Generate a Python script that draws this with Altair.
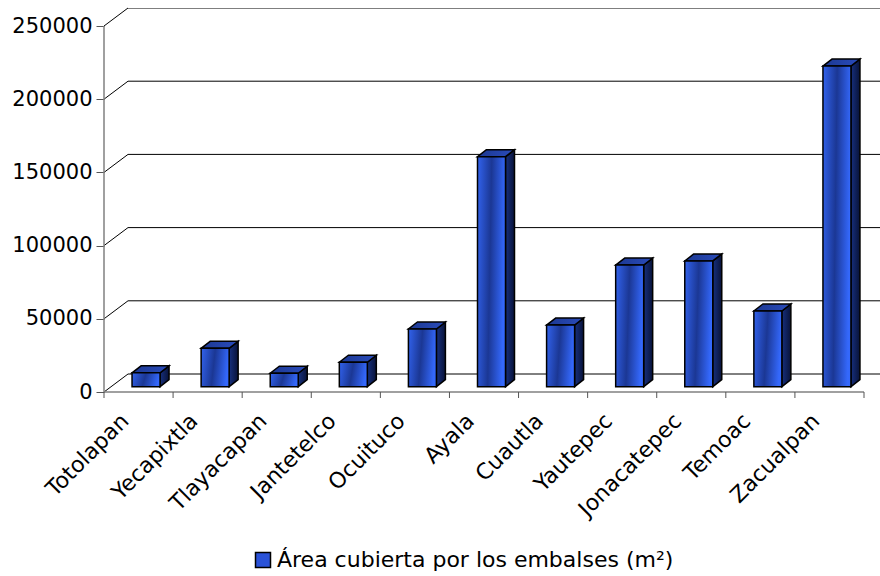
import altair as alt
import pandas as pd

# Surface covered by reservoirs per municipality (m²)
municipios = ["Totolapan", "Yecapixtla", "Tlayacapan", "Jantetelco", "Ocuituco",
              "Ayala", "Cuautla", "Yautepec", "Jonacatepec", "Temoac", "Zacualpan"]
area_m2 = [9500, 26200, 9200, 16700, 39400, 157100, 42100, 83100, 85900, 51700, 219000]
y_ticks = [0, 50000, 100000, 150000, 200000, 250000]
serie = "Área cubierta por los embalses (m²)"

FONT = "DejaVu Sans"

# ---- layout (pixels) -------------------------------------------------------
PLOT_LEFT, PLOT_TOP = 104, 8
PLOT_W, PLOT_H = 776, 384
SLOT_PX = 760 / len(municipios)          # width of one category slot
PX_PER_UNIT = 366 / 250000               # vertical pixels per m²

X_MAX = PLOT_W / SLOT_PX
Y_MAX = PLOT_H / PX_PER_UNIT


def px_x(p):
    return p / SLOT_PX


def px_y(p):
    return p / PX_PER_UNIT


# oblique depth of the back wall and of each column
WALL_DX, WALL_DY = px_x(24), px_y(18)
BAR_SHIFT_X, BAR_SHIFT_Y = px_x(7.5), px_y(5.3)
BAR_W = px_x(28)
BAR_DX, BAR_DY = px_x(9), px_y(7)
N = len(municipios)

xs = alt.Scale(domain=[0, X_MAX], nice=False, zero=False)
ys = alt.Scale(domain=[0, Y_MAX], nice=False, zero=False)

label_array = "[" + ",".join("'" + m + "'" for m in municipios) + "]"
X_AX = alt.Axis(values=[i + 0.5 for i in range(N)], labelExpr=label_array + "[floor(datum.value)]",
                domain=False, ticks=False, grid=False, title=None, labelAngle=315,
                labelAlign="right", labelBaseline="middle", labelPadding=25, labelOffset=-14,
                labelOverlap=False, labelFont=FONT, labelFontSize=22, labelColor="#000000",
                labelLimit=0)
Y_AX = alt.Axis(values=y_ticks, format="d", domain=False, grid=False, title=None,
                tickSize=8, tickColor="#555555", tickWidth=1, labelPadding=4,
                labelFont=FONT, labelFontSize=21, labelColor="#000000")

# ---- geometry tables built from the data ----------------------------------
front_rows, side_rows, top_rows = [], [], []
for i, (m, v) in enumerate(zip(municipios, area_m2)):
    c = i + 0.5 + BAR_SHIFT_X
    xl, xr = c - BAR_W / 2, c + BAR_W / 2
    y0, y1 = BAR_SHIFT_Y, BAR_SHIFT_Y + v
    front_rows.append({"m": m, "xl": xl, "xr": xr, "y0": y0, "y1": y1})
    side_rows.append({"m": m, "x": xr, "lo": y0, "hi": y1})
    side_rows.append({"m": m, "x": xr + BAR_DX, "lo": y0 + BAR_DY, "hi": y1 + BAR_DY})
    top_rows.append({"m": m, "y": y1, "xa": xl, "xb": xr})
    top_rows.append({"m": m, "y": y1 + BAR_DY, "xa": xl + BAR_DX, "xb": xr + BAR_DX})

front_df = pd.DataFrame(front_rows)
side_df = pd.DataFrame(side_rows)
top_df = pd.DataFrame(top_rows)

grid_df = pd.DataFrame({
    "g": y_ticks,
    "gb": [g + WALL_DY for g in y_ticks],
    "x0": [0.0] * len(y_ticks),
    "xw": [WALL_DX] * len(y_ticks),
    "xe": [min(N + WALL_DX, X_MAX)] * len(y_ticks),
})
cat_ticks_df = pd.DataFrame({"x": list(range(N + 1)), "y": [0.0] * (N + 1),
                             "y2": [px_y(-6)] * (N + 1)})
front_axes_df = pd.DataFrame({"x": [0.0, 0.0], "x2": [0.0, float(N)],
                              "y": [0.0, 0.0], "y2": [float(y_ticks[-1]), 0.0]})
legend_df = pd.DataFrame({"serie": [serie]})

# ---- gradients -------------------------------------------------------------
front_fill = {"gradient": "linear", "x1": 0, "y1": 0, "x2": 1, "y2": 0.15,
              "stops": [{"offset": 0, "color": "#3263ee"},
                        {"offset": 0.5, "color": "#1b3794"},
                        {"offset": 1, "color": "#3468fb"}]}
side_fill = {"gradient": "linear", "x1": 0, "y1": 0, "x2": 1, "y2": 0,
             "stops": [{"offset": 0, "color": "#17307e"},
                       {"offset": 1, "color": "#081238"}]}
top_fill = {"gradient": "linear", "x1": 0, "y1": 0, "x2": 1, "y2": 0,
            "stops": [{"offset": 0, "color": "#1c3891"},
                      {"offset": 1, "color": "#2a4cbc"}]}

# ---- layers ----------------------------------------------------------------
back_grid = alt.Chart(grid_df).mark_rule(color="#000000", strokeWidth=1, clip=True).encode(
    x=alt.X("xw:Q", scale=xs, axis=X_AX), x2="xe:Q",
    y=alt.Y("gb:Q", scale=ys, axis=Y_AX))

wall_diag = alt.Chart(grid_df).mark_rule(color="#000000", strokeWidth=1).encode(
    x=alt.X("x0:Q", scale=xs, axis=X_AX), x2="xw:Q",
    y=alt.Y("g:Q", scale=ys, axis=Y_AX), y2="gb:Q")

front_axes = alt.Chart(front_axes_df).mark_rule(color="#808080", strokeWidth=1.5).encode(
    x=alt.X("x:Q", scale=xs, axis=X_AX), x2="x2:Q",
    y=alt.Y("y:Q", scale=ys, axis=Y_AX), y2="y2:Q")

cat_ticks = alt.Chart(cat_ticks_df).mark_rule(color="#555555", strokeWidth=1).encode(
    x=alt.X("x:Q", scale=xs, axis=X_AX),
    y=alt.Y("y:Q", scale=ys, axis=Y_AX), y2="y2:Q")

side = alt.Chart(side_df).mark_area(orient="vertical", fill=side_fill, stroke="#000000",
                                    strokeWidth=1.5, strokeJoin="miter").encode(
    x=alt.X("x:Q", scale=xs, axis=X_AX),
    y=alt.Y("hi:Q", scale=ys, axis=Y_AX, stack=None), y2="lo:Q",
    detail="m:N")

top = alt.Chart(top_df).mark_area(orient="horizontal", fill=top_fill, stroke="#000000",
                                  strokeWidth=1.5, strokeJoin="miter").encode(
    y=alt.Y("y:Q", scale=ys, axis=Y_AX),
    x=alt.X("xa:Q", scale=xs, axis=X_AX, stack=None), x2="xb:Q",
    detail="m:N")

front = alt.Chart(front_df).mark_bar(fill=front_fill, stroke="#000000", strokeWidth=1.5).encode(
    x=alt.X("xl:Q", scale=xs, axis=X_AX), x2="xr:Q",
    y=alt.Y("y1:Q", scale=ys, axis=Y_AX), y2="y0:Q")

legend_layer = alt.Chart(legend_df).mark_square(opacity=0).encode(
    x=alt.value(0), y=alt.value(0),
    fill=alt.Fill("serie:N", scale=alt.Scale(range=["#2a52d8"]),
                  legend=alt.Legend(title=None, orient="none", legendX=148, legendY=541,
                                    symbolType="square", symbolSize=225,
                                    symbolStrokeColor="#000000", symbolStrokeWidth=1.5,
                                    symbolOpacity=1, labelFont=FONT, labelFontSize=22,
                                    labelColor="#000000", labelOffset=3, padding=0,
                                    labelLimit=0)))

chart = alt.layer(back_grid, wall_diag, front_axes, cat_ticks, side, top, front,
                  legend_layer).properties(
    width=PLOT_W, height=PLOT_H,
    autosize=alt.AutoSizeParams(type="none"),
    padding={"left": PLOT_LEFT, "top": PLOT_TOP, "right": 880 - PLOT_LEFT - PLOT_W,
             "bottom": 576 - PLOT_TOP - PLOT_H},
    background="#ffffff",
).configure_view(stroke=None)

chart.save("out.html", embed_options={"renderer": "svg", "actions": False})
